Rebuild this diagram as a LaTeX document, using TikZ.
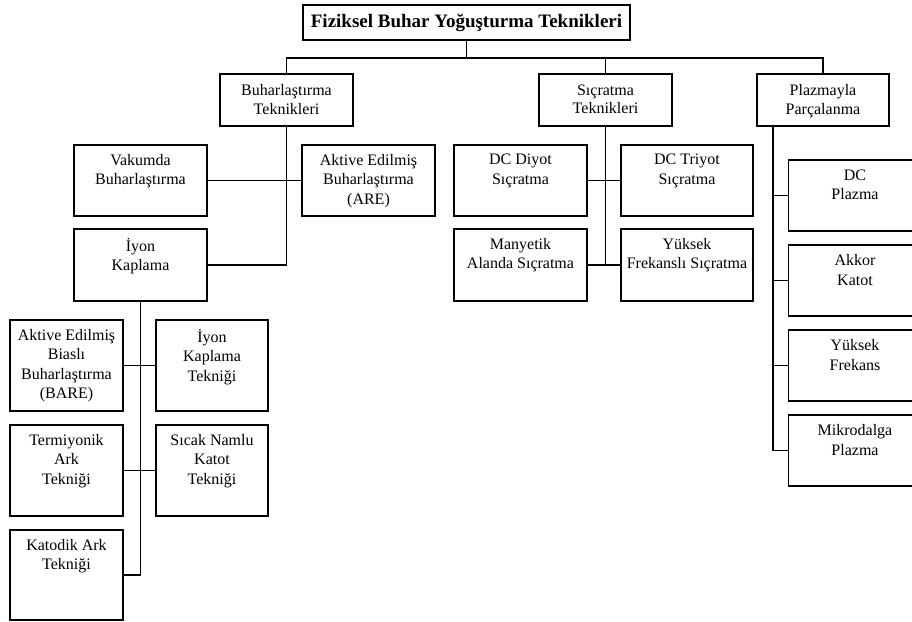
\documentclass[tikz,border=0pt]{standalone}
\usepackage{fontspec}
\setmainfont{Liberation Serif}
\begin{document}
\begin{tikzpicture}[x=1pt,y=-1pt,
  line width=1.1pt,
  box/.style={draw, rectangle, inner sep=0pt, line width=1.1pt},
  txt/.style={anchor=north, inner sep=0pt, align=center,
    font=\fontsize{16}{19.5}\selectfont,
    execute at begin node={\rule{0pt}{15pt}}},
  toptxt/.style={txt, font=\fontsize{16}{18.5}\selectfont},
  wire/.style={draw, line width=1.1pt}]
\useasboundingbox (0,0) rectangle (912,621);
\clip (0,0) rectangle (912,621);

% root
\node[box, minimum width=327pt, minimum height=35pt,
  font=\fontsize{19}{22}\selectfont\bfseries] (root) at (466.5,22.5)
  {Fiziksel Buhar Yoğuşturma Teknikleri};

% first level
\node[box, minimum width=133pt, minimum height=52pt] (bt) at (286.5,100) {};
\node[toptxt] (btT) at ([yshift=-10.5pt]bt.north) {Buharlaştırma\\Teknikleri};
\node[box, minimum width=133pt, minimum height=52pt] (st) at (605.5,100) {};
\node[toptxt] (stT) at ([yshift=-10.5pt]st.north) {Sıçratma\\Teknikleri};
\node[box, minimum width=132pt, minimum height=52pt] (pp) at (823,100) {};
\node[toptxt] (ppT) at ([yshift=-10.5pt]pp.north) {Plazmayla\\Parçalanma};

% evaporation branch
\node[box, minimum width=133pt, minimum height=71pt] (vb) at (140.5,180.5) {};
\node[txt] (vbT) at ([yshift=-9pt]vb.north) {Vakumda\\Buharlaştırma};
\node[box, minimum width=133pt, minimum height=71pt] (are) at (368.5,180.5) {};
\node[txt] (areT) at ([yshift=-9pt]are.north) {Aktive Edilmiş\\Buharlaştırma\\(ARE)};
\node[box, minimum width=133pt, minimum height=72pt] (ik) at (140.5,265) {};
\node[txt] (ikT) at ([yshift=-9pt]ik.north) {İyon\\Kaplama};

% ion plating sub-branch
\node[box, minimum width=113pt, minimum height=91pt] (bare) at (66.5,365.5) {};
\node[txt] (bareT) at ([yshift=-9pt]bare.north) {Aktive Edilmiş\\Biaslı\\Buharlaştırma\\(BARE)};
\node[box, minimum width=112pt, minimum height=91pt] (ikt) at (212,365.5) {};
\node[txt] (iktT) at ([yshift=-9pt]ikt.north) {İyon\\Kaplama\\Tekniği};
\node[box, minimum width=113pt, minimum height=91pt] (tat) at (66.5,470.5) {};
\node[txt] (tatT) at ([yshift=-9pt]tat.north) {Termiyonik\\Ark\\Tekniği};
\node[box, minimum width=112pt, minimum height=91pt] (snk) at (212,470.5) {};
\node[txt] (snkT) at ([yshift=-9pt]snk.north) {Sıcak Namlu\\Katot\\Tekniği};
\node[box, minimum width=113pt, minimum height=90pt] (kat) at (66.5,575) {};
\node[txt] (katT) at ([yshift=-9pt]kat.north) {Katodik Ark\\Tekniği};

% sputtering branch
\node[box, minimum width=133pt, minimum height=71pt] (dcd) at (520.5,180.5) {};
\node[txt] (dcdT) at ([yshift=-9pt]dcd.north) {DC Diyot\\Sıçratma};
\node[box, minimum width=132pt, minimum height=71pt] (dct) at (687,180.5) {};
\node[txt] (dctT) at ([yshift=-9pt]dct.north) {DC Triyot\\Sıçratma};
\node[box, minimum width=133pt, minimum height=72pt] (mas) at (520.5,265) {};
\node[txt] (masT) at ([yshift=-9pt]mas.north) {Manyetik\\Alanda Sıçratma};
\node[box, minimum width=132pt, minimum height=72pt] (yfs) at (687,265) {};
\node[txt] (yfsT) at ([yshift=-9pt]yfs.north) {Yüksek\\Frekanslı Sıçratma};

% plasma branch
\node[box, minimum width=133pt, minimum height=71pt] (dcp) at (855,195.5) {};
\node[txt] (dcpT) at ([yshift=-9.5pt]dcp.north) {DC\\Plazma};
\node[box, minimum width=133pt, minimum height=71pt] (akk) at (855,280.5) {};
\node[txt] (akkT) at ([yshift=-9.5pt]akk.north) {Akkor\\Katot};
\node[box, minimum width=133pt, minimum height=71pt] (yfr) at (855,365.5) {};
\node[txt] (yfrT) at ([yshift=-9.5pt]yfr.north) {Yüksek\\Frekans};
\node[box, minimum width=133pt, minimum height=71pt] (mkp) at (855,450.5) {};
\node[txt] (mkpT) at ([yshift=-9.5pt]mkp.north) {Mikrodalga\\Plazma};

% connectors
\coordinate (bus) at (0,58);
\coordinate (ppx) at (773,0);
\draw[wire] (root.south) -- (root.south |- bus);
\draw[wire] (bt.north) -- (bt.north |- bus) -- (pp.north |- bus) -- (pp.north);
\draw[wire] (st.north) -- (st.north |- bus);

\draw[wire] (bt.south) |- (ik.east);
\draw[wire] (vb.east) -- (are.west);

\draw[wire] (st.south) |- (mas.east);
\draw[wire] (mas.east) -- (yfs.west);
\draw[wire] (dcd.east) -- (dct.west);

\draw[wire] (ik.south) |- (kat.east);
\draw[wire] (bare.east) -- (ikt.west);
\draw[wire] (tat.east) -- (snk.west);

\draw[wire] (pp.south -| ppx) |- (mkp.west);
\draw[wire] (dcp.west) -- (dcp.west -| ppx);
\draw[wire] (akk.west) -- (akk.west -| ppx);
\draw[wire] (yfr.west) -- (yfr.west -| ppx);
\end{tikzpicture}
\end{document}
